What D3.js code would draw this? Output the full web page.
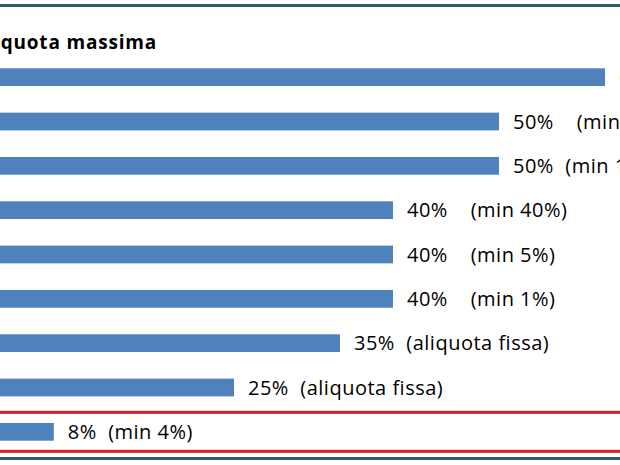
<!DOCTYPE html>
<html>
<head>
<meta charset="utf-8">
<script src="https://cdn.jsdelivr.net/npm/d3@7"></script>
<style>
    body { margin: 0; background: #fff; }
    svg { display: block; }
    .val { font-family: "Open Sans", sans-serif; white-space: pre; }
</style>
</head>
<body>
<svg class="svg"></svg>
<script>
// categories are cut off on the left in the reference
const categories = ['c1', 'c2', 'c3', 'c4', 'c5', 'c6', 'c7', 'c8', 'c9'];
const values = [60, 50, 50, 40, 40, 40, 35, 25, 8];
const notes = [
    '60%    (min 10%)',
    '50%    (min 20%)',
    '50%  (min 10%)',
    '40%    (min 40%)',
    '40%    (min 5%)',
    '40%    (min 1%)',
    '35%  (aliquota fissa)',
    '25%  (aliquota fissa)',
    '8%  (min 4%)'
];
const title = 'Aliquota massima';
const highlighted = 'c9';

function drawChart () {
    const width = 620;
    const height = 465;

    const svg = d3.select('.svg')
        .attr('width', width)
        .attr('height', height);

    /* X SCALE (zero sits left of the visible area) */
    const xScale = d3.scaleLinear()
        .domain([0, 60])
        .range([-31, 605]);

    /* Y SCALE */
    const yScale = d3.scaleBand()
        .domain(categories)
        .range([55, 454])
        .paddingInner(0.6)
        .paddingOuter(0.3);

    // frame lines
    svg.append('rect')
        .attr('x', 0).attr('y', 4)
        .attr('width', width).attr('height', 3)
        .attr('fill', '#2c5b65');
    svg.append('rect')
        .attr('x', 0).attr('y', 457)
        .attr('width', width).attr('height', 3)
        .attr('fill', '#2c5b65');

    svg.append('text')
        .attr('x', 157)
        .attr('y', 49)
        .attr('text-anchor', 'end')
        .style('font-family', '"Open Sans", sans-serif')
        .style('font-weight', 'bold')
        .style('font-size', '19px')
        .style('letter-spacing', '0.8px')
        .text(title);

    svg.selectAll('rect.bar')
        .data(values).enter()
        .append('rect')
        .attr('class', 'bar')
        .attr('x', xScale(0))
        .attr('y', (d, i) => yScale(categories[i]))
        .attr('width', d => xScale(d) - xScale(0))
        .attr('height', yScale.bandwidth())
        .attr('fill', '#4f81bd');

    svg.selectAll('text.val')
        .data(values).enter()
        .append('text')
        .attr('class', 'val')
        .attr('x', d => xScale(d) + 14)
        .attr('y', (d, i) => yScale(categories[i]) + yScale.bandwidth() / 2)
        .attr('dy', '0.36em')
        .style('font-size', '20px')
        .style('letter-spacing', '0.5px')
        .attr('fill', '#000')
        .text((d, i) => notes[i]);

    // red box round the highlighted row
    const hy = yScale(highlighted) + yScale.bandwidth() / 2;
    [hy - 21, hy + 18].forEach(y => {
        svg.append('rect')
            .attr('x', 0).attr('y', y)
            .attr('width', width).attr('height', 3)
            .attr('fill', '#d31f22');
    });
}

document.addEventListener('DOMContentLoaded', drawChart);
</script>
</body>
</html>
